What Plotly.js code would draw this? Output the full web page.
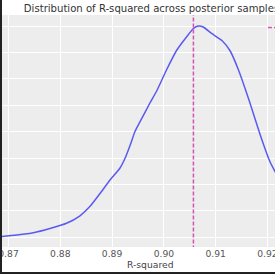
<!DOCTYPE html>
<html><head><meta charset="utf-8">
<script src="https://cdn.plot.ly/plotly-3.0.1.min.js"></script>
<style>
html,body{margin:0;padding:0;background:#fff;overflow:hidden;}
#wrap{position:relative;width:275px;height:275px;overflow:hidden;}
#plot{position:absolute;left:0;top:0;width:275px;height:275px;}
#frame{position:absolute;left:0;top:0;width:275px;height:274px;box-sizing:border-box;border-left:2px solid #222;border-bottom:2px solid #222;pointer-events:none;}
</style></head><body>
<div id="wrap"><div id="plot"></div><div id="frame"></div></div>
<script>
const rSquared = [0.8674, 0.8684, 0.8716, 0.8748, 0.8780, 0.8812, 0.8838, 0.8857, 0.8877, 0.8896,
  0.8915, 0.8925, 0.8935, 0.8944, 0.8954, 0.8973, 0.8987, 0.9005, 0.9025, 0.9044,
  0.9057, 0.9066, 0.9076, 0.9092, 0.9112, 0.9128, 0.9144, 0.9163, 0.9186, 0.9205,
  0.9215, 0.9243, 0.9282];
const density = [0.05, 0.11, 0.44, 0.87, 1.67, 2.65, 4.07, 5.81, 8.33, 10.85,
  13.07, 14.96, 17.48, 20.0, 21.89, 25.43, 27.9, 31.69, 35.47, 37.99,
  39.55, 40.02, 39.83, 38.6, 37.27, 35.28, 31.69, 26.38, 19.38, 14.26,
  12.37, 6.1, 1.8];
const meanR2 = 0.9057;
const xTickVals = [0.87, 0.88, 0.89, 0.90, 0.91, 0.92];
const xTickText = ["0.87", "0.88", "0.89", "0.90", "0.91", "0.92"];
const xRange = [0.86836, 0.92145];
const yRange = [-1.84, 42.1];

const font = "DejaVu Sans, sans-serif";
const traces = [
  {x: rSquared, y: density, type: "scatter", mode: "lines", showlegend: false,
   line: {color: "#5a5af2", width: 1.5, shape: "spline", smoothing: 0.6}},
  {x: [meanR2, meanR2], y: [yRange[0] - 5, yRange[1] + 5], type: "scatter", mode: "lines",
   name: "Mean R-squared: 0.906",
   line: {color: "#d452b0", width: 1.5, dash: "4px,2px"}}
];
const layout = {
  width: 275, height: 275,
  margin: {l: 0, r: 0, t: 15, b: 28, pad: 0, autoexpand: false},
  paper_bgcolor: "#ffffff", plot_bgcolor: "#ededed",
  font: {family: font, color: "#444"},
  title: {text: "Distribution of R-squared across posterior samples",
    x: 151.5/275, xref: "container", xanchor: "center", y: 1 - 8.65/275, yref: "container", yanchor: "middle",
    font: {family: font, size: 10.1, color: "#333"}},
  xaxis: {range: xRange, tickvals: xTickVals, ticktext: xTickText, ticklabeloverflow: "allow",
    showgrid: true, gridcolor: "#ffffff", gridwidth: 1, zeroline: false, showline: false, ticks: "",
    tickfont: {family: font, size: 9.2, color: "#555"}},
  yaxis: {range: yRange, tick0: 0, dtick: 5, showgrid: true, gridcolor: "#ffffff", gridwidth: 1,
    zeroline: false, showline: false, ticks: "", showticklabels: false},
  annotations: [{text: "R-squared", xref: "paper", x: 150/275, xanchor: "center",
    yref: "paper", y: -(264.4 - 247)/232, yanchor: "middle", showarrow: false,
    font: {family: font, size: 9.2, color: "#444"}}],
  showlegend: true,
  legend: {x: 263/275, xanchor: "left", y: 1.009, yanchor: "top", bgcolor: "rgba(0,0,0,0)",
    font: {family: font, size: 9.2, color: "#444"}}
};
Plotly.newPlot("plot", traces, layout, {staticPlot: true, displayModeBar: false});
</script>
</body></html>
